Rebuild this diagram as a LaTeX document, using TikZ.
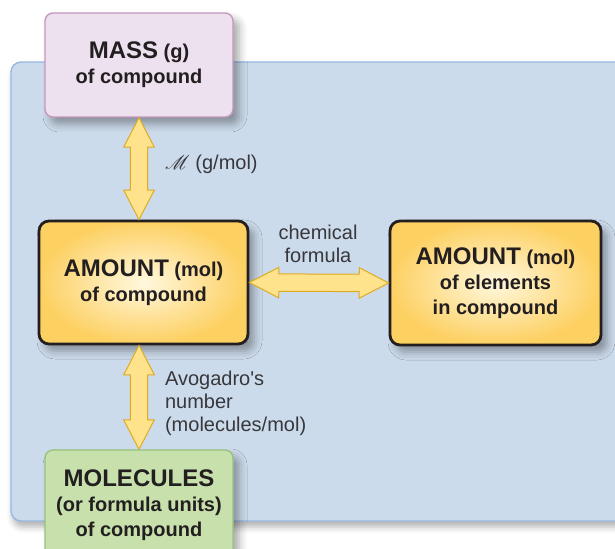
\documentclass[tikz,border=0pt]{standalone}
\usepackage{fontspec}
\setmainfont{Liberation Sans}
\usepackage{mathrsfs}
\usetikzlibrary{calc,shapes.arrows,shadows.blur}

\definecolor{panelfill}{RGB}{204,219,235}
\definecolor{panelline}{RGB}{150,185,225}
\definecolor{massfill}{RGB}{237,225,239}
\definecolor{massline}{RGB}{200,150,190}
\definecolor{molfill}{RGB}{200,225,172}
\definecolor{molline}{RGB}{150,195,125}
\definecolor{amtout}{RGB}{253,208,98}
\definecolor{amtin}{RGB}{255,248,222}
\definecolor{boxtext}{RGB}{35,31,32}
\definecolor{arrfill}{RGB}{255,226,140}
\definecolor{arrline}{RGB}{222,172,35}
\definecolor{lbltext}{RGB}{55,55,60}

\newcommand\bigword[1]{{\fontsize{12}{12.5}\selectfont #1}}

\tikzset{
  box/.style={rounded corners=4pt, align=center, text=boxtext, font=\bfseries\fontsize{10}{12.5}\selectfont,
    blur shadow={shadow xshift=3pt, shadow yshift=-3.5pt, shadow blur radius=4pt, shadow opacity=35}},
  massbox/.style={box, draw=massline, line width=0.7pt, fill=massfill, minimum width=94pt, minimum height=52pt},
  molbox/.style={box, draw=molline, line width=0.7pt, fill=molfill, minimum width=94pt, minimum height=55pt},
  amtbox/.style={box, draw=boxtext, line width=1.4pt, inner color=amtin, outer color=amtout, rounded corners=5pt},
  dblarr/.style={shape=double arrow, draw=arrline, fill=arrfill, line width=0.5pt, inner xsep=0pt, inner ysep=4.1pt,
    double arrow head extend=3.3pt, double arrow tip angle=55},
  lbl/.style={text=lbltext, align=left, font=\fontsize{10}{11.5}\selectfont}
}

\begin{document}
\begin{tikzpicture}[x=0.5pt,y=-0.5pt]
  \useasboundingbox (0,0) rectangle (615,549);
  % blue background panel
  \draw[panelline, fill=panelfill, line width=0.7pt, rounded corners=5pt,
    blur shadow={shadow xshift=1pt, shadow yshift=-3pt, shadow blur radius=3pt, shadow opacity=30}]
    (11,62) rectangle (650,521);

  \node[massbox] (mass) at (139,65) {\bigword{MASS} (g)\\of compound};
  \node[amtbox, minimum width=104.5pt, minimum height=61.5pt] (amt) at (143.5,282.5) {\bigword{AMOUNT} (mol)\\of compound};
  \node[amtbox, minimum width=105.5pt, minimum height=62pt] (elem) at (495.5,283) {\bigword{AMOUNT} (mol)\\of elements\\in compound};
  \node[molbox] (molec) at (139,505) {\bigword{MOLECULES}\\(or formula units)\\of compound};

  \path let \p1=($(mass.south |- amt.north)-(mass.south)$), \n1={veclen(\x1,\y1)} in
    (mass.south) -- (mass.south |- amt.north) node[midway, sloped, dblarr, minimum height=\n1] {};
  \path let \p1=($(elem.west)-(amt.east)$), \n1={veclen(\x1,\y1)} in
    (amt.east) -- (elem.west) node[midway, sloped, dblarr, minimum height=\n1] {};
  \path let \p1=($(molec.north)-(molec.north |- amt.south)$), \n1={veclen(\x1,\y1)} in
    (molec.north |- amt.south) -- (molec.north) node[midway, sloped, dblarr, minimum height=\n1] {};

  \node[lbl, anchor=west] (molmass) at (158,164) {$\mathscr{M}$ (g/mol)};
  \node[lbl, align=center] (formula) at (318,244) {chemical\\formula};
  \node[lbl, anchor=west] (avog) at (158,403) {Avogadro\textquotesingle s\\number\\(molecules/mol)};
\end{tikzpicture}
\end{document}
